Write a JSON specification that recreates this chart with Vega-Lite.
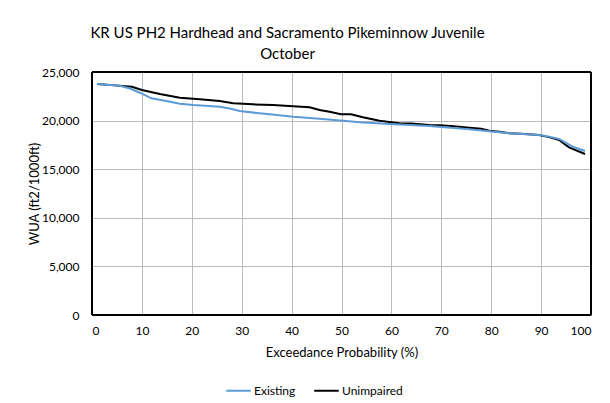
{
  "$schema": "https://vega.github.io/schema/vega-lite/v6.json",
  "width": 499,
  "height": 243,
  "autosize": {"type": "none"},
  "padding": {"left": 92, "top": 72, "right": 19, "bottom": 88},
  "background": "white",
  "title": {
    "text": ["KR US PH2  Hardhead and Sacramento Pikeminnow Juvenile", "October"],
    "font": "Lato",
    "fontSize": 15,
    "fontWeight": "normal",
    "color": "#000000",
    "anchor": "middle",
    "dx": -54,
    "offset": 4,
    "lineHeight": 21
  },
  "data": {
    "values": [
      {"p": 1, "wua": 23770, "s": "Unimpaired"},
      {"p": 4, "wua": 23650, "s": "Unimpaired"},
      {"p": 8, "wua": 23490, "s": "Unimpaired"},
      {"p": 10, "wua": 23150, "s": "Unimpaired"},
      {"p": 13.6, "wua": 22740, "s": "Unimpaired"},
      {"p": 17.6, "wua": 22360, "s": "Unimpaired"},
      {"p": 21.6, "wua": 22200, "s": "Unimpaired"},
      {"p": 25.6, "wua": 22020, "s": "Unimpaired"},
      {"p": 28.3, "wua": 21780, "s": "Unimpaired"},
      {"p": 32.3, "wua": 21670, "s": "Unimpaired"},
      {"p": 36.3, "wua": 21600, "s": "Unimpaired"},
      {"p": 40.3, "wua": 21470, "s": "Unimpaired"},
      {"p": 43.6, "wua": 21370, "s": "Unimpaired"},
      {"p": 45.6, "wua": 21090, "s": "Unimpaired"},
      {"p": 47.6, "wua": 20920, "s": "Unimpaired"},
      {"p": 49.9, "wua": 20650, "s": "Unimpaired"},
      {"p": 51.9, "wua": 20650, "s": "Unimpaired"},
      {"p": 54.3, "wua": 20340, "s": "Unimpaired"},
      {"p": 57.6, "wua": 19990, "s": "Unimpaired"},
      {"p": 61.6, "wua": 19720, "s": "Unimpaired"},
      {"p": 64, "wua": 19700, "s": "Unimpaired"},
      {"p": 67.6, "wua": 19550, "s": "Unimpaired"},
      {"p": 69.6, "wua": 19520, "s": "Unimpaired"},
      {"p": 72, "wua": 19450, "s": "Unimpaired"},
      {"p": 75.6, "wua": 19270, "s": "Unimpaired"},
      {"p": 78, "wua": 19150, "s": "Unimpaired"},
      {"p": 79.6, "wua": 18960, "s": "Unimpaired"},
      {"p": 81.6, "wua": 18850, "s": "Unimpaired"},
      {"p": 83.6, "wua": 18690, "s": "Unimpaired"},
      {"p": 86, "wua": 18650, "s": "Unimpaired"},
      {"p": 89.6, "wua": 18520, "s": "Unimpaired"},
      {"p": 91.6, "wua": 18300, "s": "Unimpaired"},
      {"p": 93.6, "wua": 18000, "s": "Unimpaired"},
      {"p": 95.6, "wua": 17250, "s": "Unimpaired"},
      {"p": 98.8, "wua": 16560, "s": "Unimpaired"},
      {"p": 1, "wua": 23770, "s": "Existing"},
      {"p": 5.6, "wua": 23590, "s": "Existing"},
      {"p": 7.6, "wua": 23300, "s": "Existing"},
      {"p": 9.6, "wua": 22870, "s": "Existing"},
      {"p": 11.9, "wua": 22290, "s": "Existing"},
      {"p": 14.9, "wua": 22020, "s": "Existing"},
      {"p": 17.6, "wua": 21740, "s": "Existing"},
      {"p": 20.3, "wua": 21600, "s": "Existing"},
      {"p": 25.6, "wua": 21430, "s": "Existing"},
      {"p": 27.6, "wua": 21250, "s": "Existing"},
      {"p": 29.6, "wua": 20990, "s": "Existing"},
      {"p": 33.6, "wua": 20750, "s": "Existing"},
      {"p": 36.6, "wua": 20600, "s": "Existing"},
      {"p": 40.3, "wua": 20400, "s": "Existing"},
      {"p": 45.6, "wua": 20200, "s": "Existing"},
      {"p": 50.9, "wua": 19960, "s": "Existing"},
      {"p": 53.6, "wua": 19820, "s": "Existing"},
      {"p": 59.6, "wua": 19650, "s": "Existing"},
      {"p": 67.6, "wua": 19440, "s": "Existing"},
      {"p": 75.6, "wua": 19100, "s": "Existing"},
      {"p": 79.6, "wua": 18900, "s": "Existing"},
      {"p": 83.6, "wua": 18690, "s": "Existing"},
      {"p": 89.6, "wua": 18520, "s": "Existing"},
      {"p": 91.6, "wua": 18350, "s": "Existing"},
      {"p": 93.6, "wua": 18110, "s": "Existing"},
      {"p": 96.3, "wua": 17320, "s": "Existing"},
      {"p": 98.8, "wua": 16870, "s": "Existing"}
    ]
  },
  "layer": [
    {
      "mark": {"type": "rule", "color": "#000000", "strokeWidth": 2},
      "encoding": {"x": {"datum": 0, "type": "quantitative"}}
    },
    {
      "mark": {"type": "rule", "color": "#000000", "strokeWidth": 2},
      "encoding": {"x": {"datum": 100, "type": "quantitative"}}
    },
    {
      "mark": {"type": "rule", "color": "#000000", "strokeWidth": 2},
      "encoding": {"y": {"datum": 0, "type": "quantitative"}}
    },
    {
      "mark": {"type": "rule", "color": "#000000", "strokeWidth": 2},
      "encoding": {"y": {"datum": 25000, "type": "quantitative"}}
    },
    {
      "mark": {"type": "line", "strokeWidth": 2, "interpolate": "linear"},
      "encoding": {
        "x": {
          "field": "p",
          "type": "quantitative",
          "scale": {"domain": [0, 100], "nice": false},
          "axis": {
            "title": "Exceedance Probability (%)",
            "values": [0, 10, 20, 30, 40, 50, 60, 70, 80, 90, 100],
            "format": "d",
            "labelPadding": 10,
            "titlePadding": 10
          }
        },
        "y": {
          "field": "wua",
          "type": "quantitative",
          "scale": {"domain": [0, 25000], "nice": false},
          "axis": {
            "title": "WUA (ft2/1000ft)",
            "values": [0, 5000, 10000, 15000, 20000, 25000],
            "format": ",.0f",
            "labelPadding": 13,
            "titlePadding": 0
          }
        },
        "color": {
          "field": "s",
          "type": "nominal",
          "scale": {"domain": ["Existing", "Unimpaired"], "range": ["#5B9BD5", "#000000"]},
          "legend": {
            "title": null,
            "orient": "none",
            "legendX": 133,
            "legendY": 305,
            "direction": "horizontal",
            "symbolType": "stroke",
            "symbolSize": 600,
            "symbolStrokeWidth": 2,
            "columnPadding": 14
          }
        },
        "order": {"field": "p", "type": "quantitative"}
      }
    }
  ],
  "config": {
    "font": "Lato",
    "view": {"stroke": "#000000", "strokeWidth": 1},
    "axis": {
      "domain": false,
      "ticks": false,
      "grid": true,
      "gridColor": "#bbbbbb",
      "gridWidth": 1,
      "labelFont": "Lato",
      "labelFontSize": 12,
      "labelColor": "#000000",
      "titleFont": "Lato",
      "titleFontSize": 13,
      "titleFontWeight": "normal",
      "titleColor": "#000000"
    },
    "legend": {
      "labelFont": "Lato",
      "labelFontSize": 12,
      "labelColor": "#000000",
      "labelOffset": 2
    }
  }
}
